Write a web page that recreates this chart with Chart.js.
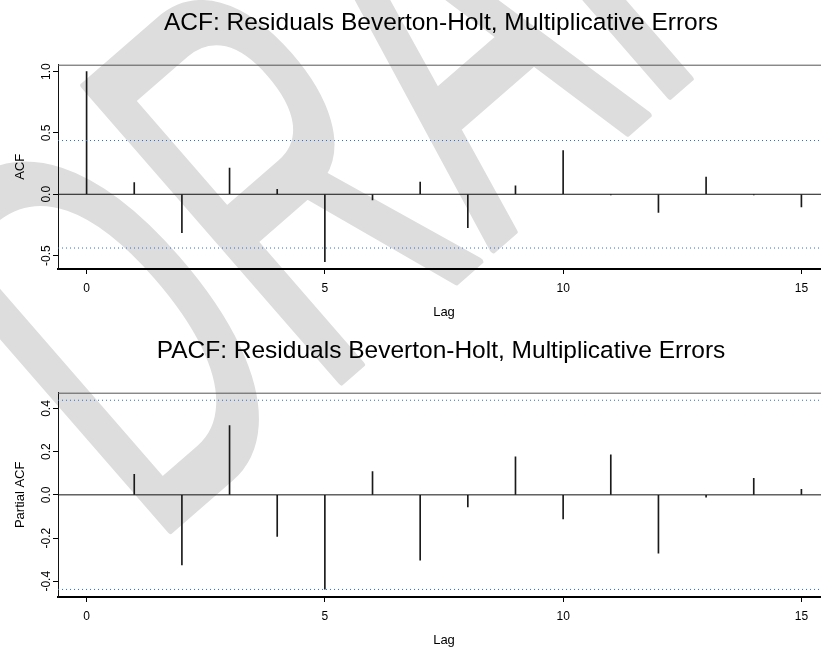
<!DOCTYPE html>
<html>
<head>
<meta charset="utf-8">
<script src="https://cdn.jsdelivr.net/npm/chart.js@4.4.1/dist/chart.umd.min.js"></script>
<style>
  html, body { margin: 0; padding: 0; background: #fff; overflow: hidden; width: 821px; height: 649px; }
  #wm { position: absolute; left: 0; top: 0; }
  .panel { position: absolute; left: 0; width: 880px; height: 325px; }
  #acfBox { top: 0; }
  #pacfBox { top: 328px; }
</style>
</head>
<body>
<canvas id="wm" width="821" height="649"></canvas>
<div class="panel" id="acfBox"><canvas id="acfChart" width="880" height="325"></canvas></div>
<div class="panel" id="pacfBox"><canvas id="pacfChart" width="880" height="325"></canvas></div>
<script>
// values
const acfLags = [0, 1, 2, 3, 4, 5, 6, 7, 8, 9, 10, 11, 12, 13, 14, 15];
const acfValues = [1.0, 0.095, -0.313, 0.214, 0.04, -0.549, -0.046, 0.10, -0.272, 0.068, 0.356, -0.005, -0.147, 0.141, -0.005, -0.104];
const pacfLags = [1, 2, 3, 4, 5, 6, 7, 8, 9, 10, 11, 12, 13, 14, 15];
const pacfValues = [0.095, -0.324, 0.321, -0.192, -0.437, 0.108, -0.303, -0.056, 0.176, -0.111, 0.185, -0.27, -0.011, 0.077, 0.025];
const ciLimit = 0.438;
const lagTicks = [0, 5, 10, 15];
const acfTicks = [-0.5, 0, 0.5, 1];
const pacfTicks = [-0.4, -0.2, 0, 0.2, 0.4];

const FONT = '"Liberation Sans", Arial, Helvetica, sans-serif';
const X_MIN = -0.6, X_MAX = 15.6;

// DRAFT watermark behind both panels
const wm = document.getElementById('wm').getContext('2d');
wm.save();
wm.translate(150, 548);
wm.rotate(-41 * Math.PI / 180);
wm.scale(0.55, 1);
wm.fillStyle = '#dddddd';
wm.strokeStyle = '#dddddd';
wm.lineWidth = 7;
wm.lineJoin = 'round';
wm.font = '570px ' + FONT;
wm.fillText('DRAFT', 0, 0);
wm.strokeText('DRAFT', 0, 0);
wm.restore();

const frameLines = {
    id: 'frameLines',
    afterDraw(chart) {
        const {ctx, chartArea} = chart;
        ctx.save();
        ctx.strokeStyle = '#555';
        ctx.lineWidth = 1;
        ctx.beginPath();
        ctx.moveTo(chartArea.left, chartArea.top + 0.5);
        ctx.lineTo(chartArea.right, chartArea.top + 0.5);
        ctx.lineTo(chartArea.right, chartArea.bottom);
        ctx.stroke();
        // main title, centred over the plot region like R does
        ctx.fillStyle = '#000';
        ctx.font = '24.5px ' + FONT;
        ctx.textAlign = 'center';
        ctx.textBaseline = 'alphabetic';
        ctx.fillText(chart.options.plugins.frameLines.title, 441, 29.5);
        ctx.restore();
    }
};

function hLine(y, color, dash) {
    return {
        type: 'line',
        data: [{x: X_MIN, y: y}, {x: X_MAX, y: y}],
        borderColor: color,
        borderWidth: 1,
        borderDash: dash,
        pointRadius: 0,
        order: 0
    };
}

function makePanel(canvasId, title, yTitle, lags, values, yMin, yMax, yTicks) {
    return new Chart(document.getElementById(canvasId), {
        type: 'bar',
        data: {
            datasets: [
                {
                    type: 'bar',
                    data: lags.map((l, i) => ({x: l, y: values[i]})),
                    backgroundColor: '#1a1a1a',
                    borderWidth: 0,
                    barThickness: 1,
                    order: 1
                },
                hLine(0, '#111', []),
                hLine(ciLimit, 'rgb(40,110,225)', [1, 3]),
                hLine(-ciLimit, 'rgb(40,110,225)', [1, 3])
            ]
        },
        plugins: [frameLines],
        options: {
            responsive: false,
            animation: false,
            events: [],
            layout: {padding: {top: 64.7, right: 50, bottom: 0, left: 0}, autoPadding: false},
            plugins: {
                legend: {display: false},
                tooltip: {enabled: false},
                frameLines: {title: title}
            },
            scales: {
                x: {
                    type: 'linear',
                    offset: false,
                    min: X_MIN,
                    max: X_MAX,
                    afterBuildTicks: s => { s.ticks = lagTicks.map(v => ({value: v})); },
                    afterFit: s => { s.height = 56; },
                    ticks: {font: {family: FONT, size: 12}, color: '#000', padding: 7.4, maxRotation: 0, autoSkip: false},
                    grid: {offset: false, drawOnChartArea: false, tickLength: 5, tickColor: '#000', tickWidth: 1},
                    border: {color: '#000', width: 2},
                    title: {display: true, text: 'Lag', color: '#000', font: {family: FONT, size: 13}, padding: {top: 0, bottom: 5.2}}
                },
                y: {
                    min: yMin,
                    max: yMax,
                    afterBuildTicks: s => { s.ticks = yTicks.map(v => ({value: v})); },
                    afterFit: s => { s.width = 58; },
                    ticks: {
                        font: {family: FONT, size: 12},
                        color: '#000',
                        minRotation: 90,
                        maxRotation: 90,
                        crossAlign: 'center',
                        padding: -4.3,
                        callback: v => v.toFixed(1)
                    },
                    grid: {drawOnChartArea: false, tickLength: 5, tickColor: '#000', tickWidth: 1},
                    border: {color: '#111', width: 1},
                    title: {display: true, text: yTitle, color: '#000', font: {family: FONT, size: 13}, padding: {top: 12.2, bottom: 0}}
                }
            }
        }
    });
}

makePanel('acfChart', 'ACF: Residuals Beverton-Holt, Multiplicative Errors', 'ACF',
    acfLags, acfValues, -0.609, 1.056, acfTicks);
makePanel('pacfChart', 'PACF: Residuals Beverton-Holt, Multiplicative Errors', 'Partial ACF',
    pacfLags, pacfValues, -0.473, 0.473, pacfTicks);
</script>
</body>
</html>
